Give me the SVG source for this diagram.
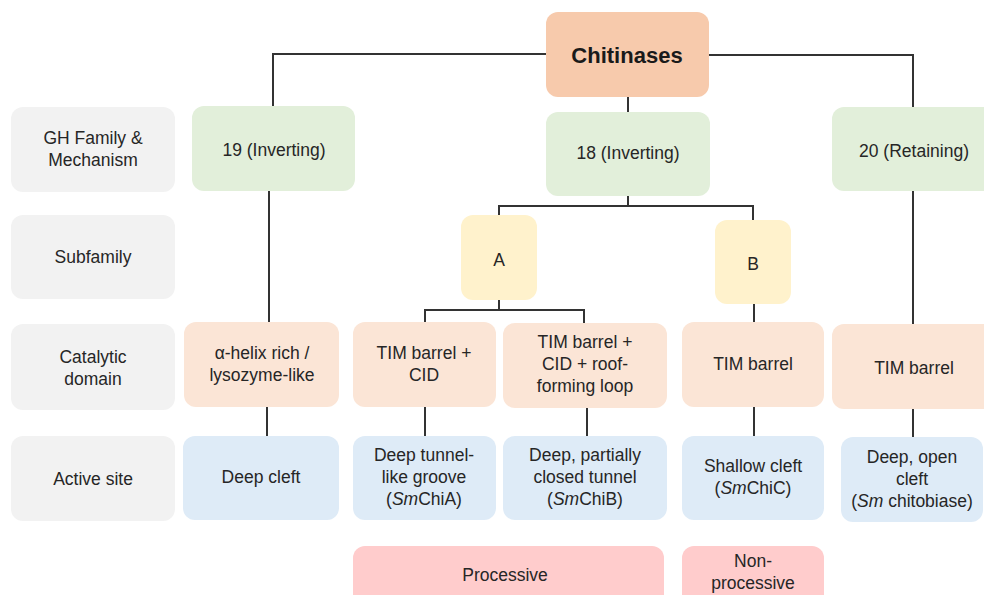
<svg xmlns="http://www.w3.org/2000/svg" width="984" height="595" viewBox="0 0 984 595">
<style>
text{font-family:"Liberation Sans",Arial,sans-serif;font-size:17.5px;fill:#262626;text-anchor:middle}
.t{font-size:22px;font-weight:bold;fill:#1a1a1a}
.lab rect{fill:#f2f2f2}
.gh rect{fill:#e2efda}
.sub rect{fill:#fff2cc}
.cat rect{fill:#fbe5d6}
.act rect{fill:#deebf7}
.pro rect{fill:#ffcccc}
#links path{fill:none;stroke:#333;stroke-width:2}
</style>
<rect width="984" height="595" fill="#fff"/>
<g id="links">
<path d="M546 54H273V106"/>
<path d="M709 55H913V107"/>
<path d="M628 97V112"/>
<path d="M628 196V206M499 215V206H753V220"/>
<path d="M269 191V322"/>
<path d="M499 300V310M425 322V310H584V323"/>
<path d="M754 304V322"/>
<path d="M913 191V324"/>
<path d="M267 407V437M425 407V436M587 408V436M754 407V436M913 409V437"/>
</g>
<g id="lab-gh" class="lab"><rect x="11" y="107" width="164" height="85" rx="12"/><text x="93" y="144">GH Family &amp;</text><text x="93" y="166">Mechanism</text></g>
<g id="lab-sub" class="lab"><rect x="11" y="215" width="164" height="84" rx="12"/><text x="93" y="263">Subfamily</text></g>
<g id="lab-cat" class="lab"><rect x="11" y="324" width="164" height="86" rx="12"/><text x="93" y="363">Catalytic</text><text x="93" y="385">domain</text></g>
<g id="lab-act" class="lab"><rect x="11" y="436" width="164" height="85" rx="12"/><text x="93" y="485">Active site</text></g>
<g id="chitinases"><rect x="546" y="12" width="163" height="85" rx="12" fill="#f7caac"/><text class="t" x="627" y="63">Chitinases</text></g>
<g id="gh19" class="gh"><rect x="192" y="106" width="163" height="85" rx="12"/><text x="274" y="156">19 (Inverting)</text></g>
<g id="gh18" class="gh"><rect x="546" y="112" width="164" height="84" rx="12"/><text x="628" y="159">18 (Inverting)</text></g>
<g id="gh20" class="gh"><rect x="832" y="107" width="170" height="84" rx="12"/><text x="914" y="157">20 (Retaining)</text></g>
<g id="subA" class="sub"><rect x="461" y="215" width="76" height="85" rx="12"/><text x="499" y="266">A</text></g>
<g id="subB" class="sub"><rect x="715" y="220" width="76" height="84" rx="12"/><text x="753" y="270">B</text></g>
<g id="cat19" class="cat"><rect x="184" y="322" width="155" height="85" rx="12"/><text x="262" y="359">α-helix rich /</text><text x="262" y="381">lysozyme-like</text></g>
<g id="catA1" class="cat"><rect x="353" y="322" width="143" height="85" rx="12"/><text x="424" y="359">TIM barrel +</text><text x="424" y="381">CID</text></g>
<g id="catA2" class="cat"><rect x="503" y="323" width="164" height="85" rx="12"/><text x="585" y="348">TIM barrel +</text><text x="585" y="370">CID + roof-</text><text x="585" y="392">forming loop</text></g>
<g id="catB" class="cat"><rect x="682" y="322" width="142" height="85" rx="12"/><text x="753" y="370">TIM barrel</text></g>
<g id="cat20" class="cat"><rect x="832" y="324" width="165" height="85" rx="12"/><text x="914" y="374">TIM barrel</text></g>
<g id="act19" class="act"><rect x="183" y="436" width="156" height="84" rx="12"/><text x="261" y="483">Deep cleft</text></g>
<g id="actA1" class="act"><rect x="353" y="436" width="143" height="84" rx="12"/><text x="424" y="461">Deep tunnel-</text><text x="424" y="483">like groove</text><text x="424" y="505">(<tspan font-style="italic">Sm</tspan>ChiA)</text></g>
<g id="actA2" class="act"><rect x="503" y="436" width="164" height="84" rx="12"/><text x="585" y="461">Deep, partially</text><text x="585" y="483">closed tunnel</text><text x="585" y="505">(<tspan font-style="italic">Sm</tspan>ChiB)</text></g>
<g id="actB" class="act"><rect x="682" y="436" width="142" height="84" rx="12"/><text x="753" y="472">Shallow cleft</text><text x="753" y="494">(<tspan font-style="italic">Sm</tspan>ChiC)</text></g>
<g id="act20" class="act"><rect x="841" y="437" width="142" height="85" rx="12"/><text x="912" y="463">Deep, open</text><text x="912" y="485">cleft</text><text x="912" y="507">(<tspan font-style="italic">Sm</tspan> chitobiase)</text></g>
<g id="processive" class="pro"><rect x="353" y="546" width="311" height="70" rx="12"/><text x="505" y="581">Processive</text></g>
<g id="nonprocessive" class="pro"><rect x="682" y="546" width="142" height="70" rx="12"/><text x="753" y="567">Non-</text><text x="753" y="589">processive</text></g>
</svg>
